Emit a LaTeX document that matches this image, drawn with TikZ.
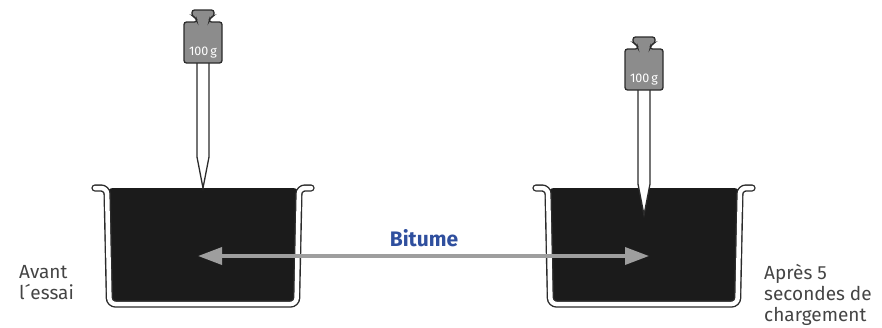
\documentclass[tikz,border=0pt]{standalone}
\usepackage{fontspec}
\setmainfont{Fira Sans}
\usetikzlibrary{arrows.meta}
\definecolor{potline}{HTML}{2B2B2B}
\definecolor{bitumen}{HTML}{1B1B1B}
\definecolor{weightgray}{HTML}{8C8C8C}
\definecolor{labelgray}{HTML}{444444}
\definecolor{bitblue}{HTML}{2F4F9E}
\tikzstyle{pot}=[draw=potline, line width=1.4pt, double=white, double distance=4.5pt, line cap=round, rounded corners=6pt]
\tikzstyle{tar}=[fill=bitumen, rounded corners=6pt]
\tikzstyle{needle}=[draw=potline, fill=white, line width=1.3pt, line join=miter]
\tikzstyle{weightbox}=[draw=potline, fill=weightgray, line width=1.3pt, rounded corners=2.5pt]
\tikzstyle{masslabel}=[text=white, font=\fontsize{12.5}{14}\selectfont, inner sep=0pt, anchor=base]
\tikzstyle{caption}=[anchor=north west, align=left, text=labelgray, font=\fontsize{19}{21}\selectfont, inner sep=0pt]
\tikzstyle{flow}=[{Triangle[length=24pt,width=17pt]}-{Triangle[length=24pt,width=17pt]}, draw=black!38, line width=3.5pt]

\begin{document}
\begin{tikzpicture}[x=1pt, y=-1pt]
\useasboundingbox (0,0) rectangle (882,327);

%pots, needles and weights
  \foreach \cx/\dy/\nm in {203/0/L, 644/27/R}{
    \fill[tar] (\cx-96,188) -- (\cx-93.5,304) -- (\cx+93.5,304) -- (\cx+96,188) -- cycle;
    \draw[pot] (\cx-108,188) -- (\cx-96,188) -- (\cx-93.5,304) -- (\cx+93.5,304) -- (\cx+96,188) -- (\cx+108,188);
    \draw[needle] (\cx-6,63+\dy) -- (\cx-6,157+\dy) -- (\cx,188+\dy) -- (\cx+6,157+\dy) -- (\cx+6,63+\dy);
    \draw[weightbox] (\cx-6,22+\dy) -- (\cx-7,18+\dy) -- (\cx-11,16+\dy) -- (\cx-11,10+\dy) -- (\cx+11,10+\dy) -- (\cx+11,16+\dy) -- (\cx+7,18+\dy) -- (\cx+6,22+\dy)
       -- (\cx+19,22+\dy) -- (\cx+19,63+\dy) -- (\cx-19,63+\dy) -- (\cx-19,22+\dy) -- cycle;
    \node[masslabel] (mass\nm) at (\cx,55+\dy) {100\,g};
  }

%Bitume
  \coordinate (bitL) at (198,256);
  \coordinate (bitR) at (649,256);
  \draw[flow] (bitL) -- (bitR);
  \node[font=\bfseries\fontsize{21}{24}\selectfont, text=bitblue] (bitume) at (424,238) {Bitume};

\node[caption] (before) at (19,265) {Avant\\l´essai};
\node[caption] (after) at (764,264) {Après 5\\secondes de\\chargement};

\end{tikzpicture}
\end{document}
